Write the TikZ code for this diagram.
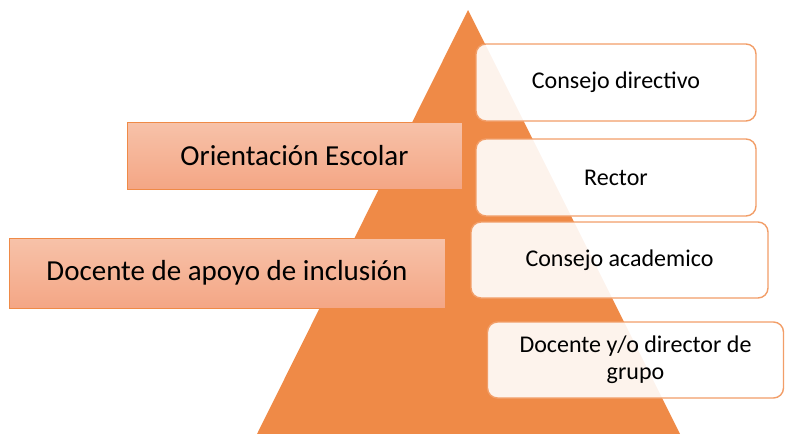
\documentclass[tikz,border=0pt]{standalone}
\usepackage{fontspec}
\setmainfont{Carlito}
\definecolor{pyramid}{HTML}{EF8A47}
\definecolor{rim}{HTML}{F29E68}
\definecolor{saltop}{HTML}{F7C2A9}
\definecolor{salbot}{HTML}{F4A685}
\tikzstyle{level} = [draw=rim,line width=1.4pt,rounded corners=10pt,fill=white,fill opacity=0.9,text opacity=1,inner sep=0pt,align=center,font=\fontsize{24}{27}\selectfont]
\tikzstyle{role} = [draw=pyramid,line width=1pt,top color=saltop,bottom color=salbot,inner sep=0pt,font=\fontsize{29}{33}\selectfont]

\begin{document}
\begin{tikzpicture}[x=1pt,y=-1pt]
	\useasboundingbox (0,0) rectangle (785,434);
	\fill[pyramid] (468,10) -- (680,434) -- (257,434) -- cycle;
	\node[level,minimum width=280,minimum height=77] (consejo) at (616,82.5) {Consejo directivo};
	\node[level,minimum width=280,minimum height=77] (rector) at (616,177.5) {Rector};
	\node[level,minimum width=297,minimum height=76] (academico) at (619.5,260) {Consejo academico};
	\node[level,minimum width=296,minimum height=76] (docente) at (635.5,360) {Docente y/o director de\\grupo};
	\node[role,minimum width=335,minimum height=67] (orientacion) at (294.5,155.5) {Orientación Escolar};
	\node[role,minimum width=436,minimum height=70] (apoyo) at (227,273) {Docente de apoyo de inclusión};
	\end{tikzpicture}
\end{document}
